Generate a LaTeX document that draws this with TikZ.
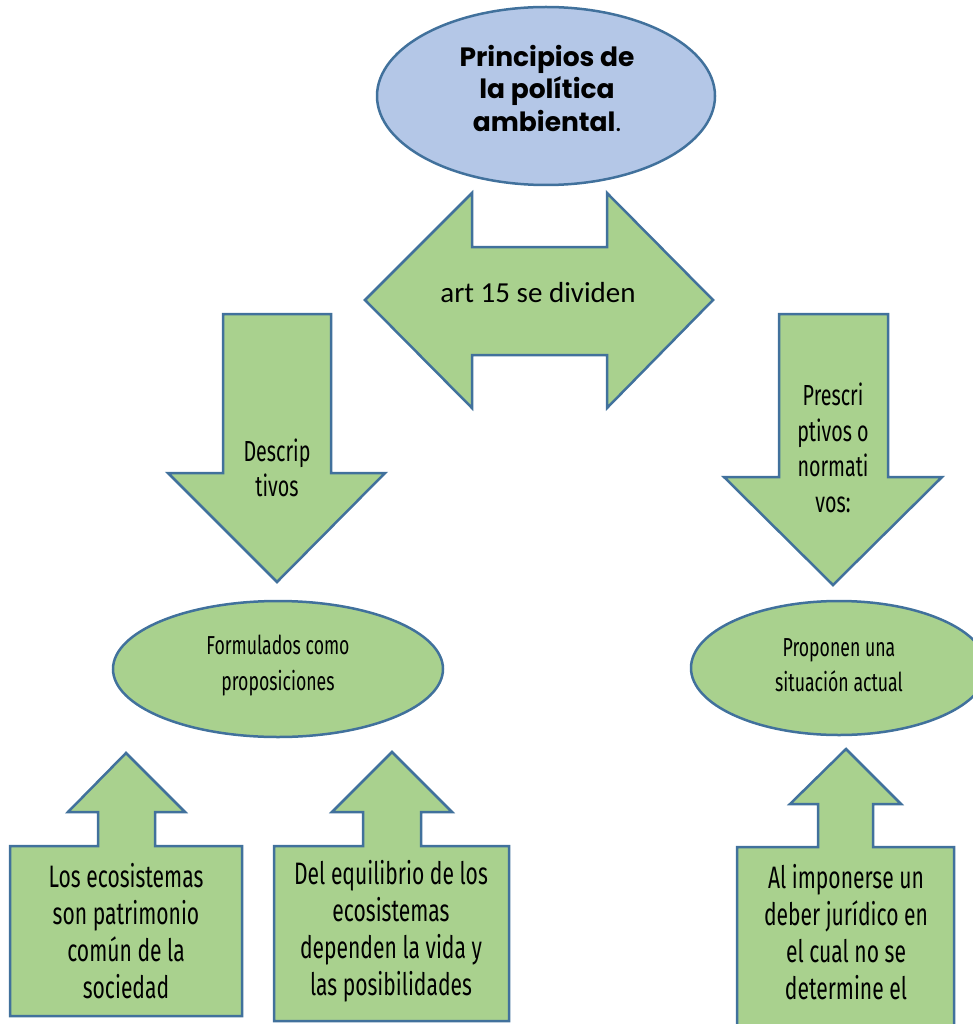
\documentclass[tikz,border=0pt]{standalone}
\usepackage{fontspec}
\setmainfont{Carlito}
\newfontfamily\headfont{Poppins}
\newfontfamily\narrowfont[FakeStretch=0.68]{Fira Sans}
\definecolor{leaf}{HTML}{A9D18E}
\definecolor{sky}{HTML}{B4C7E7}
\definecolor{rim}{HTML}{41719C}
\begin{document}
\begin{tikzpicture}[x=1pt,y=-1pt,line width=2.5pt,line join=miter,
  greenpiece/.style={draw=rim,fill=leaf},
  narrow/.style={font=\narrowfont\fontsize{29}{35.5}\selectfont,align=center},
  boxtext/.style={font=\narrowfont\fontsize{31}{37}\selectfont,align=center}]
\clip (0,0) rectangle (973,1024);
% title
\filldraw[draw=rim,fill=sky] (546,96) ellipse (169 and 89);
\node[font=\headfont\bfseries\fontsize{26.5}{32.5}\selectfont,align=center] (title) at (547,88) {Principios de\\la política\\ambiental{\mdseries .}};
% double arrow
\filldraw[greenpiece] (365,300) -- (472,193) -- (472,247) -- (607,247) -- (607,193) -- (713,300)
  -- (607,408) -- (607,355) -- (472,355) -- (472,408) -- cycle;
\node[font=\fontsize{29}{34}\selectfont] (divide) at (538,293) {art 15 se dividen};
% down arrows
\filldraw[greenpiece] (223,314) -- (331,314) -- (331,473) -- (385,473) -- (277,582) -- (168,473) -- (223,473) -- cycle;
\node[narrow] (descr) at (277,468) {Descrip\\tivos};
\filldraw[greenpiece] (779,314) -- (888,314) -- (888,477) -- (942,477) -- (833,585) -- (724,477) -- (779,477) -- cycle;
\node[narrow] (prescr) at (833,448) {Prescri\\ptivos o\\normati\\vos:};
% ellipses
\filldraw[greenpiece] (278,669) ellipse (165 and 68);
\node[narrow,font=\narrowfont\fontsize{26}{36}\selectfont] (formul) at (278,666) {Formulados como\\proposiciones};
\filldraw[greenpiece] (839,668) ellipse (148 and 67);
\node[narrow,font=\narrowfont\fontsize{26}{35}\selectfont] (propon) at (839,665) {Proponen una\\situación actual};
% up arrow callouts
\filldraw[greenpiece] (10,1016) -- (10,846) -- (98,846) -- (98,812) -- (68,812) -- (126,753) -- (185,812)
  -- (155,812) -- (155,846) -- (242,846) -- (242,1016) -- cycle;
\node[boxtext] (ecosis) at (126,931) {Los ecosistemas\\son patrimonio\\común de la\\sociedad};
\filldraw[greenpiece] (274,1021) -- (274,846) -- (363,846) -- (363,812) -- (332,812) -- (392,752) -- (452,812)
  -- (421,812) -- (421,846) -- (509,846) -- (509,1021) -- cycle;
\node[boxtext] (equil) at (391,931) {Del equilibrio de los\\ecosistemas\\dependen la vida y\\las posibilidades};
\filldraw[greenpiece] (737,1040) -- (737,847) -- (818,847) -- (818,804) -- (790,804) -- (846,749) -- (901,804)
  -- (873,804) -- (873,847) -- (954,847) -- (954,1040) -- cycle;
\node[boxtext] (deber) at (846,932) {Al imponerse un\\deber jurídico en\\el cual no se\\determine el};
\end{tikzpicture}
\end{document}
